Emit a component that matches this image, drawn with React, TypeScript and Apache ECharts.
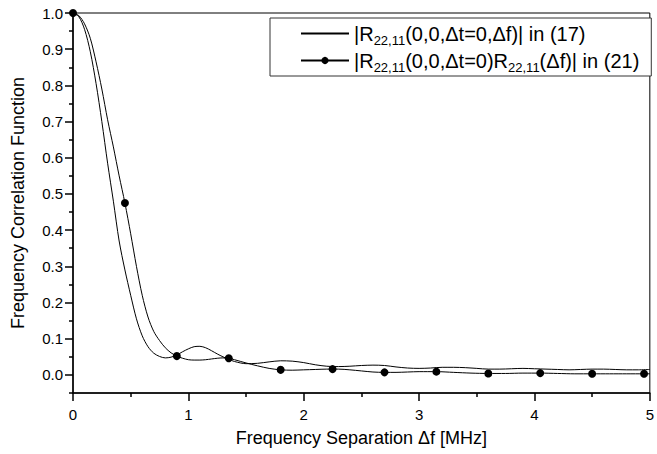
import React, { useEffect, useRef } from "react";
import * as echarts from "echarts";

// Curve from eq. (17): |R22,11(0,0,Δt=0,Δf)|
const c17X = [0, 0.05, 0.1, 0.15, 0.2, 0.25, 0.3, 0.35, 0.4, 0.45, 0.5, 0.55, 0.6, 0.65, 0.7, 0.75, 0.8, 0.85, 0.9, 0.95, 1.0, 1.05, 1.1, 1.15, 1.2, 1.25, 1.3, 1.35, 1.4, 1.5, 1.6, 1.7, 1.8, 1.9, 2.0, 2.1, 2.2, 2.3, 2.4, 2.5, 2.6, 2.7, 2.8, 2.9, 3.0, 3.1, 3.2, 3.3, 3.4, 3.5, 3.6, 3.7, 3.8, 3.9, 4.0, 4.1, 4.2, 4.3, 4.4, 4.5, 4.6, 4.7, 4.8, 4.9, 5.0];
const c17Y = [1.0, 0.99, 0.955, 0.893, 0.805, 0.7, 0.585, 0.48, 0.37, 0.29, 0.22, 0.155, 0.108, 0.078, 0.06, 0.051, 0.047, 0.049, 0.055, 0.064, 0.072, 0.078, 0.079, 0.075, 0.067, 0.058, 0.05, 0.043, 0.037, 0.031, 0.032, 0.036, 0.039, 0.038, 0.034, 0.028, 0.024, 0.023, 0.024, 0.026, 0.027, 0.026, 0.022, 0.019, 0.018, 0.019, 0.021, 0.021, 0.02, 0.018, 0.016, 0.016, 0.017, 0.018, 0.017, 0.016, 0.015, 0.014, 0.015, 0.016, 0.016, 0.015, 0.014, 0.014, 0.015];

// Curve from eq. (21): |R22,11(0,0,Δt=0)R22,11(Δf)|
const c21X = [0, 0.05, 0.1, 0.15, 0.2, 0.25, 0.3, 0.35, 0.4, 0.45, 0.5, 0.55, 0.6, 0.65, 0.7, 0.75, 0.8, 0.85, 0.9, 0.95, 1.0, 1.05, 1.1, 1.15, 1.2, 1.25, 1.3, 1.35, 1.4, 1.5, 1.6, 1.7, 1.8, 1.9, 2.0, 2.1, 2.2, 2.25, 2.3, 2.4, 2.5, 2.6, 2.7, 2.8, 2.9, 3.0, 3.15, 3.3, 3.45, 3.6, 3.75, 3.9, 4.05, 4.2, 4.35, 4.5, 4.65, 4.8, 4.95, 5.0];
const c21Y = [1.0, 0.993, 0.97, 0.93, 0.865, 0.79, 0.705, 0.63, 0.55, 0.475, 0.39, 0.3, 0.22, 0.16, 0.12, 0.095, 0.075, 0.061, 0.052, 0.046, 0.042, 0.041, 0.041, 0.042, 0.044, 0.046, 0.047, 0.046, 0.042, 0.033, 0.025, 0.018, 0.014, 0.013, 0.014, 0.015, 0.016, 0.016, 0.016, 0.014, 0.011, 0.008, 0.007, 0.007, 0.008, 0.009, 0.009, 0.007, 0.005, 0.004, 0.004, 0.005, 0.005, 0.004, 0.003, 0.003, 0.003, 0.003, 0.003, 0.003];
const c21MarkerX = [0, 0.45, 0.9, 1.35, 1.8, 2.25, 2.7, 3.15, 3.6, 4.05, 4.5, 4.95];

const yMajorTicks = [0, 0.1, 0.2, 0.3, 0.4, 0.5, 0.6, 0.7, 0.8, 0.9, 1.0];
const yMinorTicks = [-0.05, 0.05, 0.15, 0.25, 0.35, 0.45, 0.55, 0.65, 0.75, 0.85, 0.95];

const FONT = "'Liberation Sans', Arial, Helvetica, sans-serif";

export default function App() {
  const ref = useRef<HTMLDivElement>(null);
  useEffect(() => {
    if (!ref.current) return;
    const chart = echarts.init(ref.current, undefined, { renderer: "svg" });
    const d17 = c17X.map((x, i) => [x, c17Y[i]]);
    const d21 = c21X.map((x, i) => ({
      value: [x, c21Y[i]],
      symbol: c21MarkerX.some((m) => Math.abs(m - x) < 1e-9) ? "circle" : "none",
    }));
    const legendNames: Record<string, string> = {
      c17: "{n||R}{s|22,11}{n|(0,0,\u0394t=0,\u0394f)| in (17)}",
      c21: "{n||R}{s|22,11}{n|(0,0,\u0394t=0)R}{s|22,11}{n|(\u0394f)| in (21)}",
    };
    chart.setOption({
      animation: false,
      backgroundColor: "#fff",
      textStyle: { fontFamily: FONT },
      grid: {
        left: 73,
        right: 1,
        top: 13,
        bottom: 61,
        show: true,
        borderColor: "#000",
        borderWidth: 1,
        backgroundColor: "transparent",
      },
      legend: {
        left: 270,
        top: 18,
        orient: "vertical",
        align: "left",
        padding: [2, 12, 2, 30],
        itemGap: 0,
        itemWidth: 48,
        itemHeight: 9,
        backgroundColor: "#fff",
        borderColor: "#333",
        borderWidth: 1,
        borderRadius: 0,
        data: [
          { name: "c17", itemStyle: { color: "transparent", borderColor: "transparent", borderWidth: 0 } },
          { name: "c21" },
        ],
        formatter: (name: string) => legendNames[name],
        textStyle: {
          color: "#000",
          fontFamily: FONT,
          rich: {
            n: { fontSize: 20, lineHeight: 24, color: "#000", fontFamily: FONT },
            s: { fontSize: 13, lineHeight: 24, color: "#000", fontFamily: FONT, padding: [14, 0, 0, 0] },
          },
        },
      },
      xAxis: {
        type: "value",
        min: 0,
        max: 5,
        interval: 1,
        name: "Frequency Separation \u0394f [MHz]",
        nameLocation: "middle",
        nameGap: 36,
        nameTextStyle: { fontSize: 18, color: "#000", fontFamily: FONT },
        axisLine: { show: true, onZero: false, lineStyle: { color: "#000", width: 1.5 } },
        axisTick: { show: true, inside: false, length: 8, lineStyle: { color: "#000", width: 1.5 } },
        minorTick: { show: true, splitNumber: 2, length: 4, lineStyle: { color: "#000", width: 1.5 } },
        axisLabel: { fontSize: 15, color: "#000", margin: 14, fontFamily: FONT, showMaxLabel: true },
        splitLine: { show: false },
        minorSplitLine: { show: false },
      },
      yAxis: [
        {
          type: "value",
          min: -0.05,
          max: 1.0,
          name: "Frequency Correlation Function",
          nameLocation: "middle",
          nameGap: 46,
          nameTextStyle: { fontSize: 18, color: "#000", fontFamily: FONT },
          axisLine: { show: true, onZero: false, lineStyle: { color: "#000", width: 1.5 } },
          axisTick: {
            show: true,
            inside: false,
            length: 8,
            customValues: yMajorTicks,
            lineStyle: { color: "#000", width: 1.5 },
          },
          axisLabel: {
            fontSize: 15,
            color: "#000",
            margin: 10,
            fontFamily: FONT,
            customValues: yMajorTicks,
            formatter: (v: number) => v.toFixed(1),
          },
          splitLine: { show: false },
        },
        {
          type: "value",
          min: -0.05,
          max: 1.0,
          position: "left",
          axisLine: { show: false },
          axisTick: {
            show: true,
            inside: false,
            length: 4,
            customValues: yMinorTicks,
            lineStyle: { color: "#000", width: 1.5 },
          },
          axisLabel: { show: false },
          splitLine: { show: false },
        },
      ],
      series: [
        {
          name: "c17",
          type: "line",
          data: d17,
          smooth: 0.3,
          symbol: "none",
          lineStyle: { color: "#000", width: 1 },
          itemStyle: { color: "#000" },
        },
        {
          name: "c21",
          type: "line",
          data: d21,
          smooth: 0.3,
          symbol: "circle",
          symbolSize: 8,
          showSymbol: true,
          showAllSymbol: true,
          lineStyle: { color: "#000", width: 1 },
          itemStyle: { color: "#000" },
        },
      ],
    });
    return () => chart.dispose();
  }, []);
  return (
    <div
      ref={ref}
      style={{ position: "fixed", left: 0, top: 0, width: 657, height: 454, background: "#fff" }}
    />
  );
}
